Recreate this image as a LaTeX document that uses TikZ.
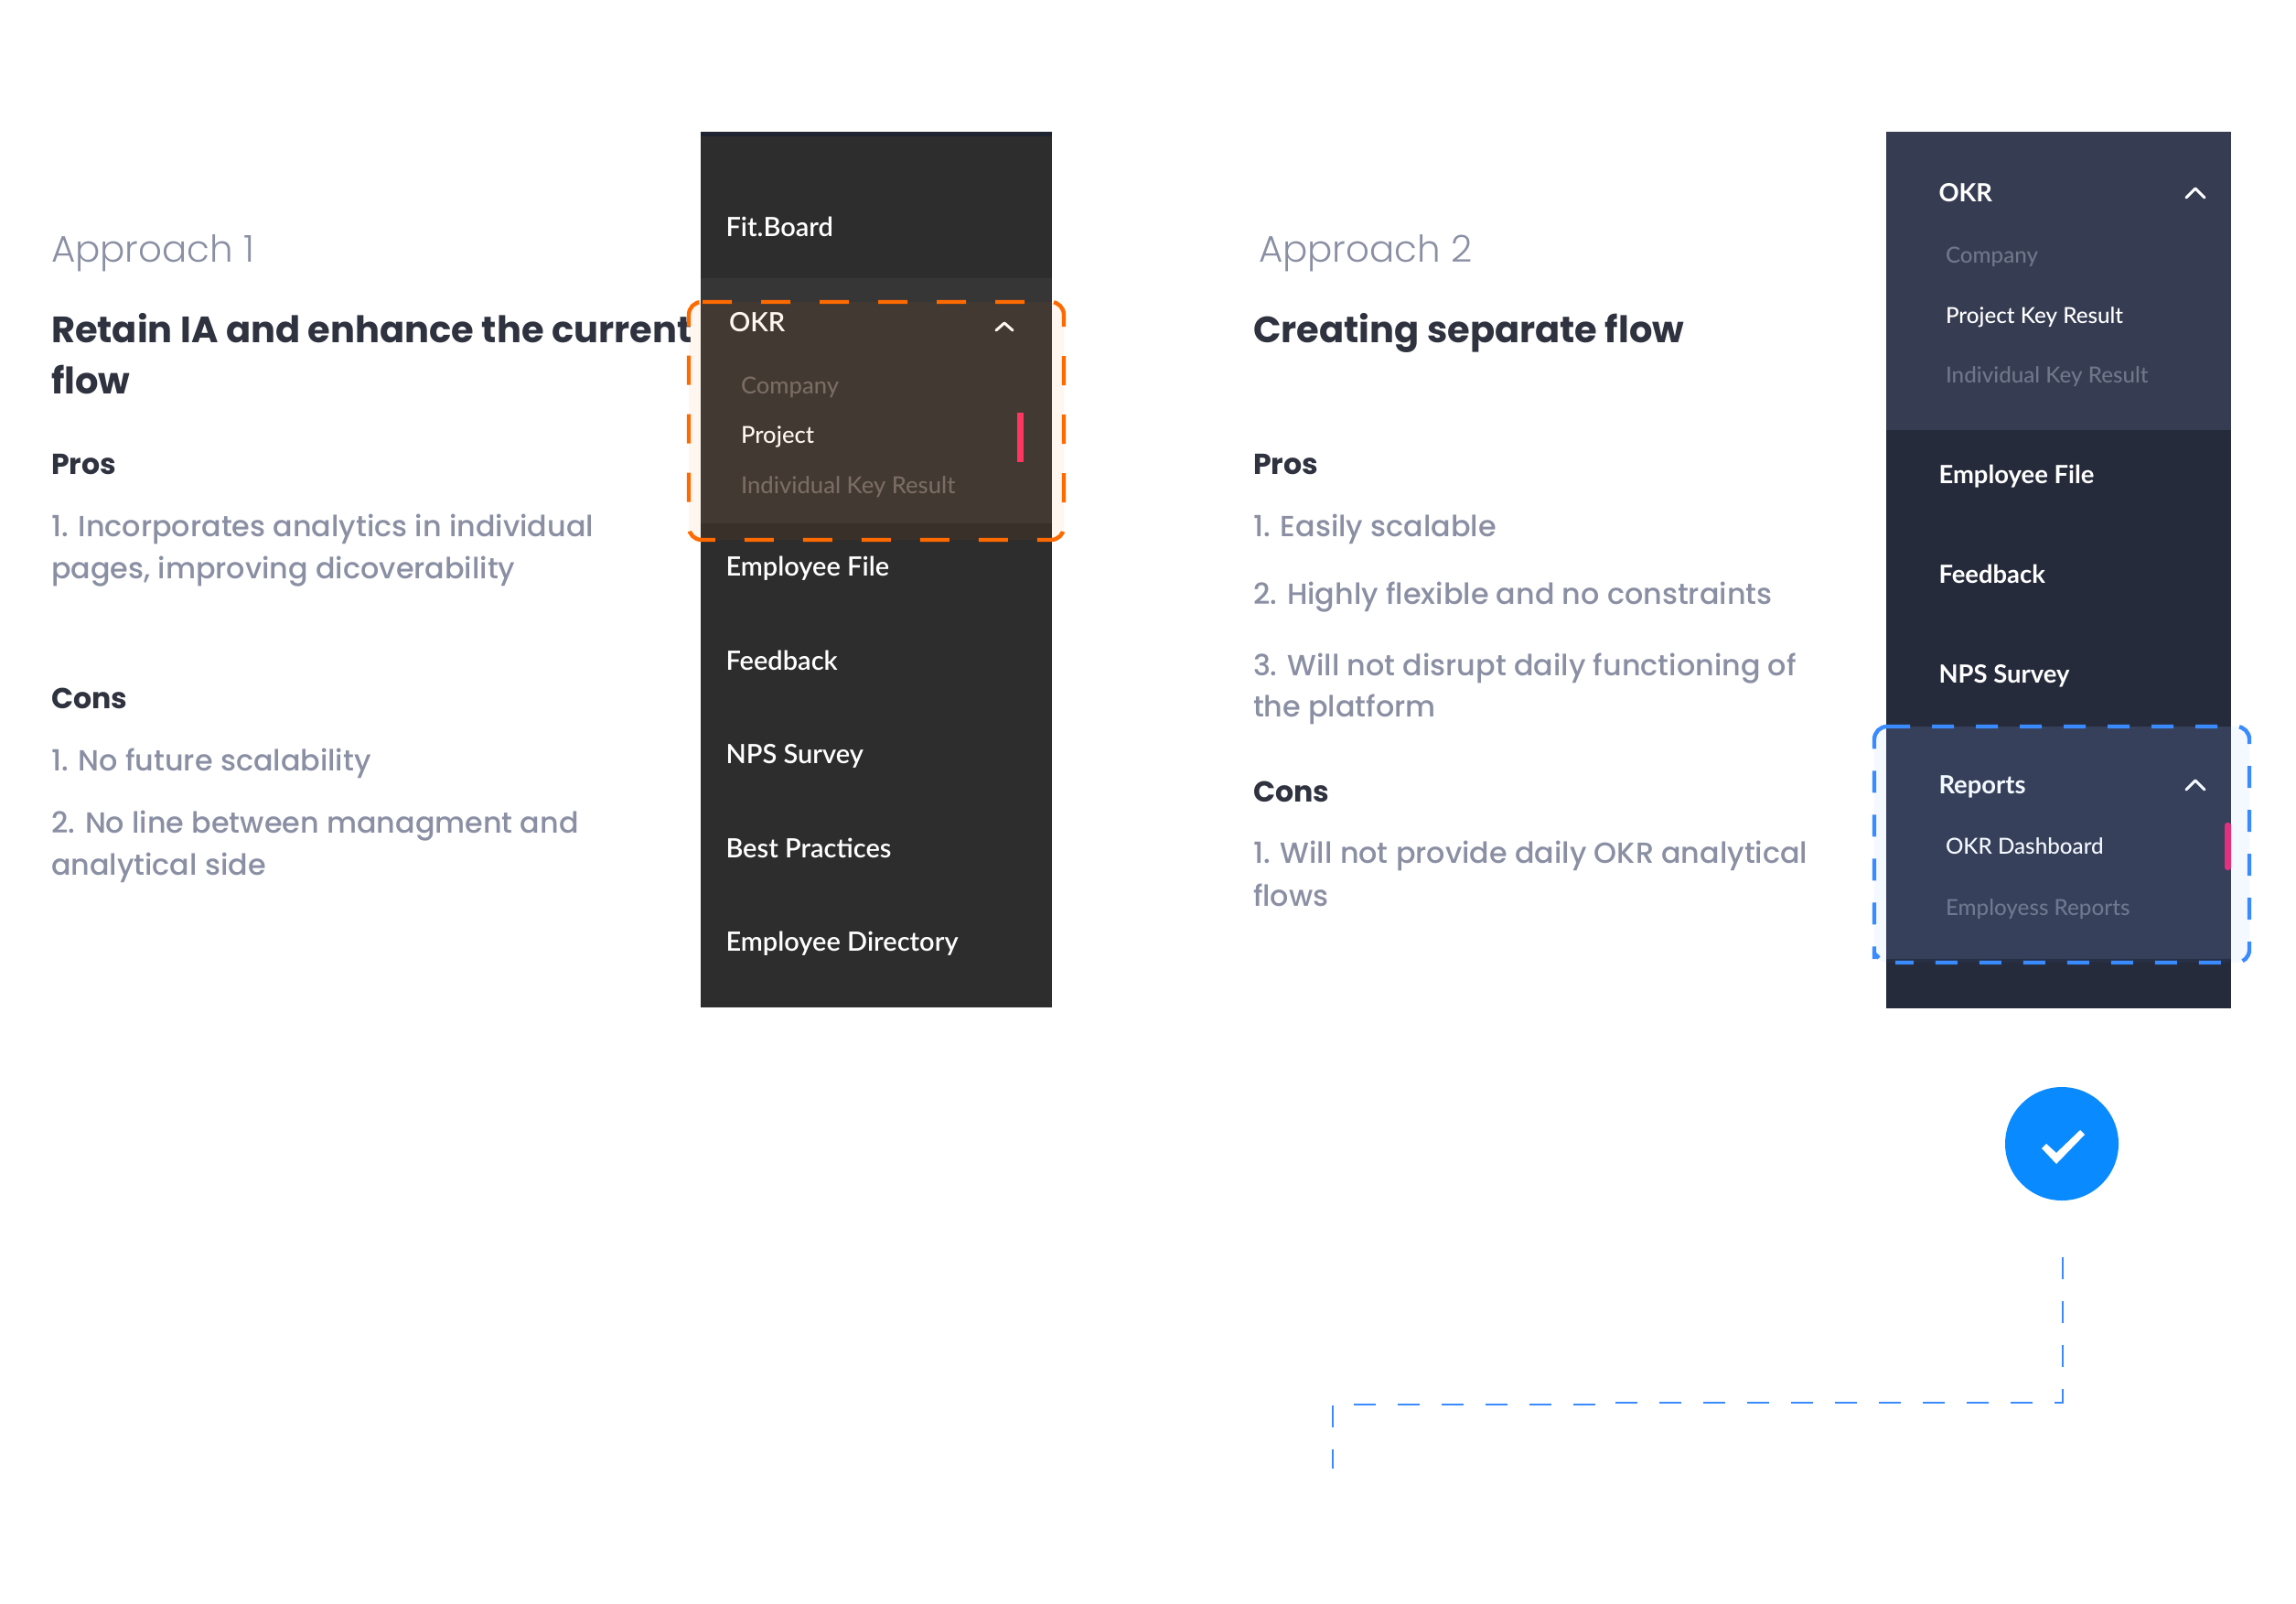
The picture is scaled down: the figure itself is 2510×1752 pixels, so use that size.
\documentclass[tikz,border=0pt]{standalone}
\usepackage{fontspec}
\setmainfont{Poppins Medium}
\newfontfamily\plight{Poppins Light}
\newfontfamily\pbold{Poppins Bold}
\newfontfamily\navfont{Lato Semibold}
\newfontfamily\navsub{Lato Medium}
\newfontfamily\navbold{Lato}[UprightFont=* Bold]
\definecolor{txtgrey}{HTML}{8A8FA3}
\definecolor{txtdark}{HTML}{2F323F}
\definecolor{panelA}{HTML}{2D2D2D}
\definecolor{panelAsec}{HTML}{363636}
\definecolor{panelB}{HTML}{262B3B}
\definecolor{panelBsec}{HTML}{363C52}
\definecolor{strip}{HTML}{1F2433}
\definecolor{orangeD}{HTML}{FF6A00}
\definecolor{blueD}{HTML}{3A8BFF}
\definecolor{blueC}{HTML}{0A8AFF}
\definecolor{navfaintA}{HTML}{726D69}
\definecolor{navfaintB}{HTML}{717789}
\definecolor{pinkA}{HTML}{FF3366}
\definecolor{pinkB}{HTML}{EE2B77}
\begin{document}
\begin{tikzpicture}[x=0.5pt,y=-0.5pt,
  lbl/.style={anchor=base west,inner sep=0pt,outer sep=0pt},
  approach/.style={lbl,font=\plight\fontsize{20.2}{26}\selectfont,text=txtgrey},
  headline/.style={lbl,font=\pbold\fontsize{20}{24}\selectfont,text=txtdark},
  subhead/.style={lbl,font=\pbold\fontsize{15.8}{20}\selectfont,text=txtdark},
  body/.style={lbl,font=\fontsize{15.9}{20}\selectfont,text=txtgrey},
  navA/.style={lbl,font=\navfont\fontsize{14.5}{18}\selectfont,text=white},
  subA/.style={lbl,font=\navsub\fontsize{12.8}{16}\selectfont,text=white},
  fadeA/.style={subA,text=navfaintA},
  navB/.style={lbl,font=\navbold\fontsize{13.7}{18}\selectfont,text=white},
  subB/.style={lbl,font=\navsub\fontsize{12.1}{16}\selectfont,text=white},
  fadeB/.style={subB,text=navfaintB},
  chev/.style={draw=white,line width=1.5pt,line cap=round,line join=round},
  orangebox/.style={draw=orangeD,line width=2.2pt,dash pattern=on 16pt off 16pt,rounded corners=7pt},
  bluebox/.style={draw=blueD,line width=2.2pt,dash pattern=on 12pt off 12pt,rounded corners=7pt},
  bluearc/.style={draw=blueD,line width=2.2pt,rounded corners=7pt},
  link/.style={draw=blueD,line width=1pt,dash pattern=on 12pt off 12pt}]
\useasboundingbox[fill=white] (0,0) rectangle (2510,1752);

% panels
\fill[panelA] (766,144) rectangle (1150,1101);
\fill[strip] (766,144) rectangle (1150,149);
\fill[panelAsec] (766,304) rectangle (1150,572);
\fill[panelB] (2062,144) rectangle (2439,1102);
\fill[panelBsec] (2062,144) rectangle (2439,470);
\fill[panelBsec] (2062,794) rectangle (2439,1048);

% left column
\node[approach] (a1) at (56,286.5) {Approach 1};
\node[headline] (h1a) at (56,374) {Retain IA and enhance the current};
\node[headline] (h1b) at (56,430) {flow};
\node[subhead] (p1) at (56,518) {Pros};
\node[body] (p1a) at (56,586) {1. Incorporates analytics in individual};
\node[body] (p1b) at (56,632) {pages, improving dicoverability};
\node[subhead] (c1) at (56,774) {Cons};
\node[body] (c1a) at (56,842) {1. No future scalability};
\node[body] (c1b) at (56,910) {2. No line between managment and};
\node[body] (c1c) at (56,956) {analytical side};

% right column
\node[approach] (a2) at (1376,286.5) {Approach 2};
\node[headline] (h2) at (1370,374) {Creating separate flow};
\node[subhead] (p2) at (1370,518) {Pros};
\node[body] (p2a) at (1370,586) {1. Easily scalable};
\node[body] (p2b) at (1370,660) {2. Highly flexible and no constraints};
\node[body] (p2c) at (1370,738) {3. Will not disrupt daily functioning of};
\node[body] (p2d) at (1370,783) {the platform};
\node[subhead] (c2) at (1370,876) {Cons};
\node[body] (c2a) at (1370,943) {1. Will not provide daily OKR analytical};
\node[body] (c2b) at (1370,990) {flows};

% left nav
\node[navA] (n1) at (793.5,258.5) {Fit.Board};
\node[navA] (n2) at (797,362) {OKR};
\node[fadeA] (n3) at (810,430) {Company};
\node[subA] (n4) at (810,484) {Project};
\node[fadeA] (n5) at (810,539) {Individual Key Result};
\node[navA] (n6) at (793.5,629.5) {Employee File};
\node[navA] (n7) at (793.5,732.5) {Feedback};
\node[navA] (n8) at (793.5,834.5) {NPS Survey};
\node[navA] (n9) at (793.5,937.5) {Best Practices};
\node[navA] (n10) at (793.5,1039.5) {Employee Directory};
\draw[chev] (1089,361) -- (1098,353) -- (1107,361);
\fill[pinkA] (1112,451) rectangle (1119,505);

% right nav
\node[navB] (r1) at (2119.5,220) {OKR};
\node[fadeB] (r2) at (2127,287) {Company};
\node[subB] (r3) at (2127,353) {Project Key Result};
\node[fadeB] (r4) at (2127,418) {Individual Key Result};
\node[navB] (r5) at (2119.5,528.5) {Employee File};
\node[navB] (r6) at (2119.5,637.5) {Feedback};
\node[navB] (r7) at (2119.5,746.5) {NPS Survey};
\node[navB] (r8) at (2119.5,867) {Reports};
\node[subB] (r9) at (2127,933) {OKR Dashboard};
\node[fadeB] (r10) at (2127,1000) {Employess Reports};
\draw[chev] (2390,216) -- (2400,206) -- (2410,216);
\draw[chev] (2390,863) -- (2400,853) -- (2410,863);
\fill[pinkB,rounded corners=1.5pt] (2432,899) rectangle (2439,951);

% highlight boxes
\fill[orangeD,fill opacity=.06,rounded corners=7pt] (753,330) rectangle (1163,590);
\path[orangebox] (768,330) -- (1163,330) -- (1163,590) -- (753,590) -- (753,330) -- (768,330);
\fill[blueD,fill opacity=.05,rounded corners=7pt] (2049,794) rectangle (2459,1052);
\path[bluebox] (2112,794) -- (2459,794) -- (2459,1052) -- (2072,1052);
\path[bluebox] (2054,1047) .. controls (2051,1044) and (2049,1040) .. (2049,1034) -- (2049,808);
\path[bluearc] (2049,808) -- (2049,794) -- (2088,794);

% approved marker
\node[circle,fill=blueC,minimum size=62pt,inner sep=0pt] (ok) at (2254,1250) {};
\fill[white] (2232,1255) -- (2248,1272) -- (2279,1240) -- (2274,1235) -- (2248,1260) -- (2237,1250) -- cycle;

% connector
\coordinate (l0) at (2255,1374);
\coordinate (l1) at (2255,1533);
\coordinate (l2) at (1758,1533);
\coordinate (l3) at (1758,1535);
\coordinate (l4) at (1457,1535);
\coordinate (l5) at (1457,1605);
\path[link] (l0) -- (l1) -- (l2) -- (l3) -- (l4) -- (l5);
\end{tikzpicture}
\end{document}
